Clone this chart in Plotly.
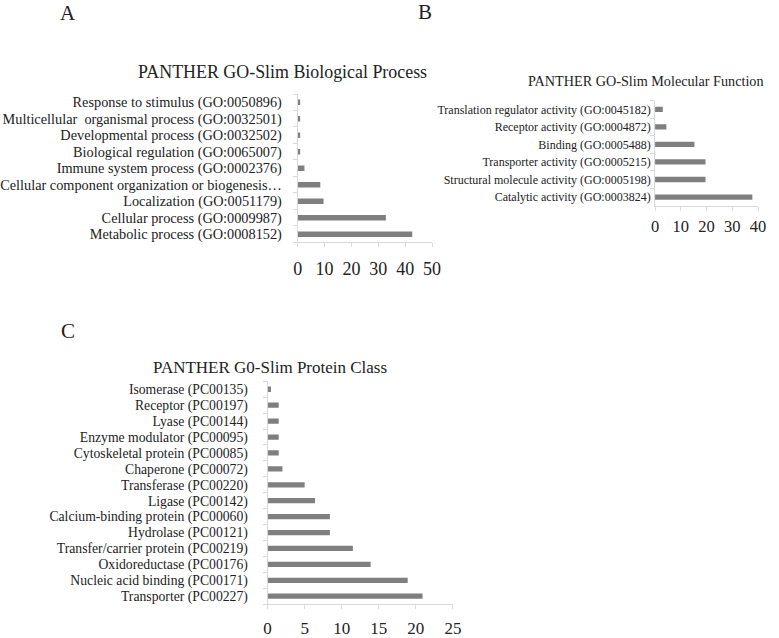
import plotly.graph_objects as go

# Panel A - Biological Process (top to bottom)
bp_labels = [
    "Response to stimulus (GO:0050896)",
    "Multicellular\u00a0 organismal process (GO:0032501)",
    "Developmental process (GO:0032502)",
    "Biological regulation (GO:0065007)",
    "Immune system process (GO:0002376)",
    "Cellular component organization or biogenesis…",
    "Localization (GO:0051179)",
    "Cellular process (GO:0009987)",
    "Metabolic process (GO:0008152)",
]
bp_values = [0.9, 0.9, 0.9, 0.9, 2.5, 8.4, 9.6, 32.8, 42.6]
bp_ticks = [0, 10, 20, 30, 40, 50]

# Panel B - Molecular Function (top to bottom)
mf_labels = [
    "Translation regulator activity (GO:0045182)",
    "Receptor activity (GO:0004872)",
    "Binding (GO:0005488)",
    "Transporter activity (GO:0005215)",
    "Structural molecule activity (GO:0005198)",
    "Catalytic activity (GO:0003824)",
]
mf_values = [3.0, 4.4, 15.3, 19.6, 19.6, 37.8]
mf_ticks = [0, 10, 20, 30, 40]

# Panel C - Protein Class (top to bottom)
pc_labels = [
    "Isomerase (PC00135)",
    "Receptor (PC00197)",
    "Lyase (PC00144)",
    "Enzyme modulator (PC00095)",
    "Cytoskeletal protein (PC00085)",
    "Chaperone (PC00072)",
    "Transferase (PC00220)",
    "Ligase (PC00142)",
    "Calcium-binding protein (PC00060)",
    "Hydrolase (PC00121)",
    "Transfer/carrier protein (PC00219)",
    "Oxidoreductase (PC00176)",
    "Nucleic acid binding (PC00171)",
    "Transporter (PC00227)",
]
pc_values = [0.45, 1.5, 1.5, 1.5, 1.5, 2.0, 5.0, 6.4, 8.4, 8.4, 11.5, 13.9, 18.9, 20.9]
pc_ticks = [0, 5, 10, 15, 20, 25]

FONT = "Liberation Serif, Times New Roman, serif"
BAR = "#7f7f7f"
AXC = "#d9d9d9"
TXT = "#222222"

W, H = 779, 638

fig = go.Figure()

panels = [
    # labels, values, ticks, axis id, x px range, y px (top, bottom), label font, tick font, bar width, x-label standoff, y-label standoff
    (bp_labels, bp_values, bp_ticks, "", (293, 431.3), (94.6, 244), 14.3, 18, 0.33, 6, 12),
    (mf_labels, mf_values, mf_ticks, "2", (660.7, 766.7), (101.2, 207.1), 12.0, 16.5, 0.3, 1, 1),
    (pc_labels, pc_values, pc_ticks, "3", (262, 452.7), (383.7, 608), 13.7, 17, 0.33, 4, 16),
]

for labels, values, ticks, ax, (x0, x1), (yt, yb), lf, tf, bw, xs, ys in panels:
    fig.add_trace(go.Bar(
        x=values, y=labels, orientation="h",
        marker=dict(color=BAR, line=dict(width=0)),
        width=bw,
        xaxis="x" + ax, yaxis="y" + ax,
        showlegend=False, hoverinfo="x+y",
    ))
    n = len(labels)
    fig.layout["xaxis" + ax] = dict(
        domain=[x0 / W, x1 / W], range=[0, ticks[-1]],
        anchor="y" + ax, tickmode="array", tickvals=ticks,
        showgrid=False, zeroline=False,
        showline=True, linecolor=AXC, linewidth=1,
        ticks="outside", ticklen=4, tickcolor=AXC,
        tickfont=dict(family=FONT, size=tf, color=TXT),
        ticklabelstandoff=xs, fixedrange=True,
    )
    fig.layout["yaxis" + ax] = dict(
        domain=[1 - yb / H, 1 - yt / H], range=[n - 0.5, -0.5],
        anchor="x" + ax, type="category",
        tickmode="array", tickvals=labels, ticktext=labels,
        showgrid=False, zeroline=False,
        showline=True, linecolor=AXC, linewidth=1,
        ticks="outside", ticklen=4, tickcolor=AXC, tickson="boundaries",
        tickfont=dict(family=FONT, size=lf, color=TXT),
        ticklabelstandoff=ys, fixedrange=True,
    )

annotations = [
    dict(text="A", x=57, y=13, size=21),
    dict(text="B", x=424, y=12, size=21),
    dict(text="C", x=57, y=333, size=21),
    dict(text="PANTHER GO-Slim Biological Process", x=277, y=72, size=17.9),
    dict(text="PANTHER GO-Slim Molecular Function", x=651, y=82, size=14.2),
    dict(text="PANTHER G0-Slim Protein Class", x=264, y=370, size=17),
]
fig.update_layout(annotations=[
    dict(text=a["text"], x=a["x"] / W, y=1 - a["y"] / H, xref="paper", yref="paper",
         xanchor="center", yanchor="middle", showarrow=False,
         font=dict(family=FONT, size=a["size"], color=TXT))
    for a in annotations
])

fig.update_layout(
    width=W, height=H,
    margin=dict(l=0, r=0, t=0, b=0),
    paper_bgcolor="white", plot_bgcolor="white",
    font=dict(family=FONT, color=TXT),
)

fig.write_html("out.html", config={"displayModeBar": False},
               post_script="document.body.style.margin='0';")
